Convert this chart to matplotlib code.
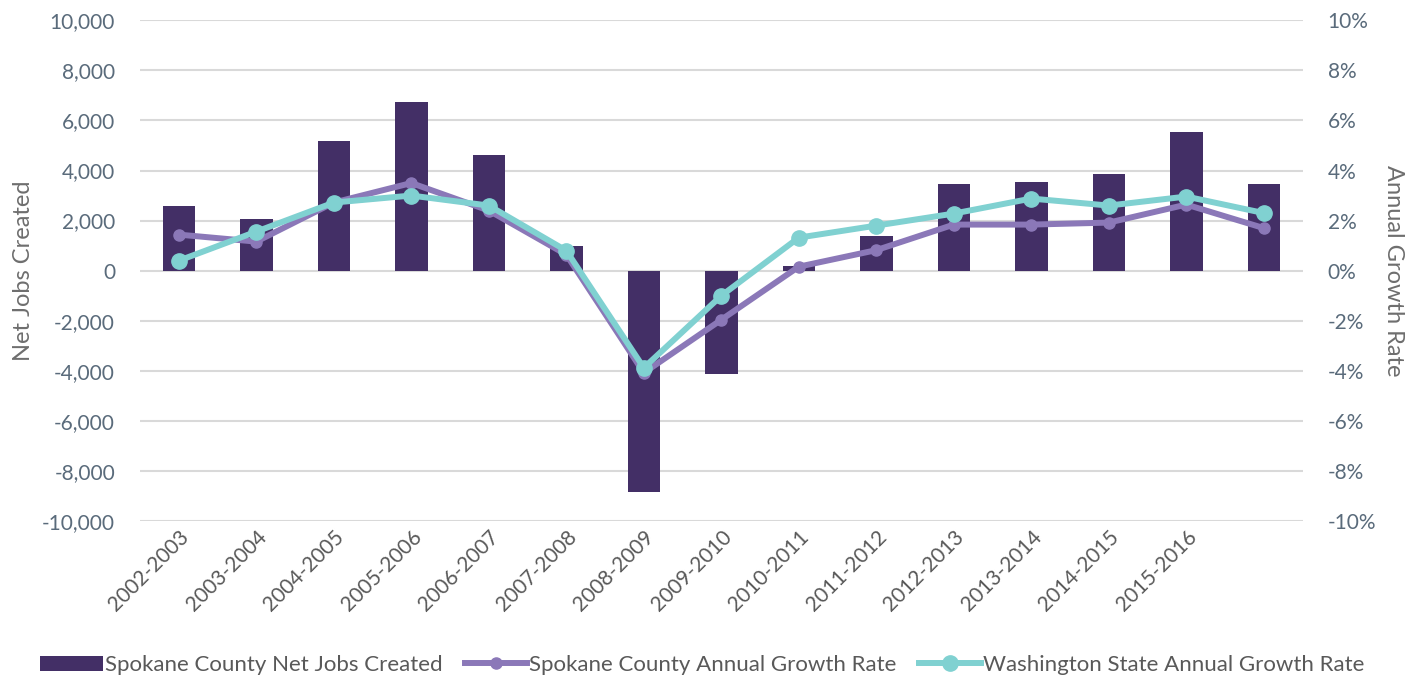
import matplotlib.pyplot as plt
from matplotlib.ticker import FuncFormatter

plt.rcParams['font.family'] = ['Lato', 'DejaVu Sans']

# Data
years = ['2002-2003', '2003-2004', '2004-2005', '2005-2006', '2006-2007',
         '2007-2008', '2008-2009', '2009-2010', '2010-2011', '2011-2012',
         '2012-2013', '2013-2014', '2014-2015', '2015-2016', '']
net_jobs = [2580, 2080, 5180, 6730, 4600, 1000, -8820, -4120, 170, 1400,
            3450, 3560, 3880, 5520, 3450]
spokane_rate = [1.44, 1.16, 2.72, 3.50, 2.40, 0.64, -4.08, -1.96, 0.16, 0.82,
                1.84, 1.84, 1.92, 2.64, 1.70]
wa_rate = [0.40, 1.56, 2.72, 3.00, 2.60, 0.80, -3.88, -1.00, 1.32, 1.80,
           2.28, 2.88, 2.60, 2.96, 2.30]

bar_color = '#432F66'
purple = '#8B78B8'
teal = '#80D1D1'
tick_color = '#5A6B7B'
label_color = '#6E6E6E'

fig = plt.figure(figsize=(14.22, 6.75), dpi=100)
ax = fig.add_axes([0.0985, 0.228, 0.8175, 0.742])
ax2 = ax.twinx()

x = list(range(len(years)))
bars = ax.bar(x, net_jobs, width=0.42, color=bar_color, zorder=2,
              label='Spokane County Net Jobs Created')
ax.set_ylim(-10000, 10000)
ax.set_yticks(range(-10000, 10001, 2000))
ax.yaxis.set_major_formatter(FuncFormatter(lambda v, p: f'{int(v):,}'))
ax.set_xlim(-0.5, len(years) - 0.5)
ax.grid(axis='y', color='#D9D9D9', linewidth=1.5, zorder=0)
ax.set_axisbelow(True)

l1, = ax2.plot(x, spokane_rate, color=purple, linewidth=4.3, marker='o',
               markersize=8, label='Spokane County Annual Growth Rate', zorder=3)
l2, = ax2.plot(x, wa_rate, color=teal, linewidth=4.3, marker='o',
               markersize=11, label='Washington State Annual Growth Rate', zorder=4)
ax2.set_ylim(-10, 10)
ax2.set_yticks(range(-10, 11, 2))
ax2.yaxis.set_major_formatter(FuncFormatter(lambda v, p: f'{int(v)}%'))

for a in (ax, ax2):
    for s in a.spines.values():
        s.set_visible(False)
    a.tick_params(length=0, labelsize=15, labelcolor=tick_color)

ax.tick_params(axis='y', pad=18)
ax2.tick_params(axis='y', pad=18)
ax.set_xticks(x)
ax.set_xticklabels(years, rotation=45, ha='right', rotation_mode='anchor',
                   color='#595959', fontsize=15)
ax.tick_params(axis='x', pad=4)

ax.set_ylabel('Net Jobs Created', fontsize=17, color=label_color, labelpad=6)
ax2.set_ylabel('Annual Growth Rate', fontsize=17, color=label_color,
               rotation=270, labelpad=20)

fig.legend([bars, l1, l2],
           ['Spokane County Net Jobs Created', 'Spokane County Annual Growth Rate',
            'Washington State Annual Growth Rate'],
           loc='lower center', bbox_to_anchor=(0.494, -0.03), ncol=3,
           frameon=False, fontsize=16, handlelength=2.8, handletextpad=0.1,
           columnspacing=1.0, labelcolor='#595959')

fig.savefig('out.png', dpi=100)
